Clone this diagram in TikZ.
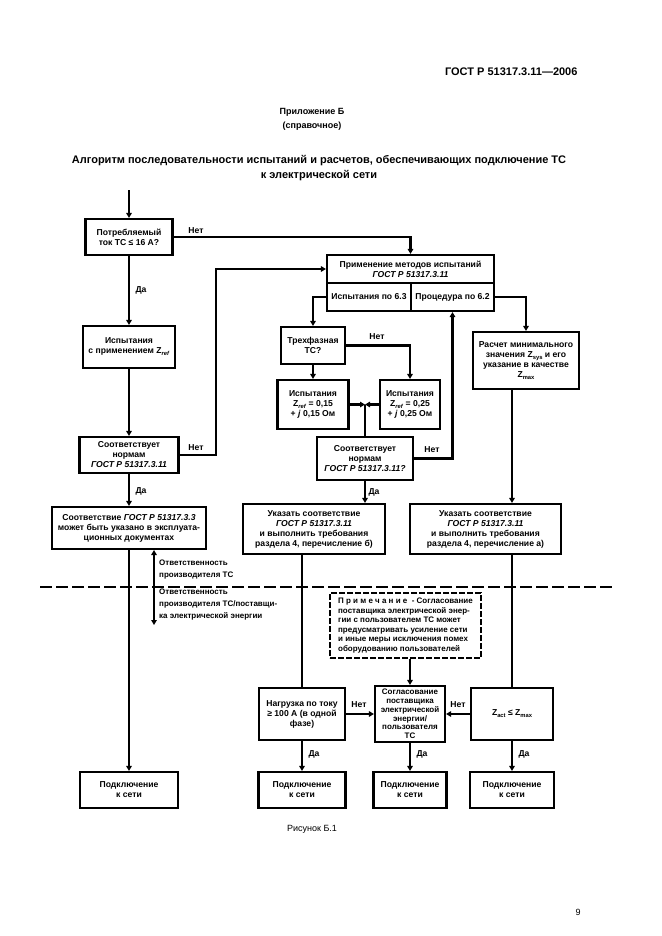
\documentclass[tikz,border=0pt]{standalone}
\usepackage{fontspec}
\setmainfont{Liberation Sans}
\usetikzlibrary{arrows.meta}

\newcommand{\lowtxt}[1]{\raisebox{-0.45ex}{\fontsize{5.8}{6}\selectfont #1}}

\tikzset{
  blk/.style={draw, line width=2.1pt, align=center, inner sep=1pt, font=\fontsize{8.6}{10}\selectfont\bfseries},
  sz/.style 2 args={minimum width=#1pt, minimum height=#2pt},
  arr/.style={line width=2.1pt, -{Triangle[length=5pt,width=5.5pt]}},
  ln/.style={line width=2.1pt},
  lbl/.style={font=\fontsize{8.6}{10}\selectfont\bfseries, inner sep=1pt},
}

\begin{document}
\begin{tikzpicture}[x=1pt,y=-1pt]
\useasboundingbox (0,0) rectangle (661,936);
\node[anchor=east, font=\fontsize{11}{13}\selectfont\bfseries] (gost) at (581,72) {ГОСТ Р 51317.3.11—2006};
\node[align=center, font=\fontsize{9}{14}\selectfont\bfseries] (app) at (312,119) {Приложение Б\\(справочное)};
\node[align=center, font=\fontsize{11}{15}\selectfont\bfseries] (title) at (319,168) {Алгоритм последовательности испытаний и расчетов, обеспечивающих подключение ТС\\к электрической сети};
\node[font=\fontsize{9}{11}\selectfont] (fig) at (312,829) {Рисунок Б.1};
\node[font=\fontsize{9}{11}\selectfont] (pg) at (578,912) {9};

\node[blk, sz={87}{36}] (cur) at (129,237) {Потребляемый\\ток ТС ≤ 16 А?};
\node[blk, sz={92}{42}] (zref) at (129,347) {Испытания\\с применением Z\lowtxt{\textit{ref}}};
\node[blk, sz={99}{36}] (chk) at (129,455) {Соответствует\\нормам\\\textit{ГОСТ Р 51317.3.11}};
\node[blk, sz={154}{42}] (decl) at (129,528) {Соответствие \textit{ГОСТ Р 51317.3.3}\\может быть указано в эксплуата-\\ционных документах};
\node[blk, sz={98}{36}] (con1) at (129,790) {Подключение\\к сети};

\node[blk, sz={167}{28}] (meth) at (410.5,269) {Применение методов испытаний\\\textit{ГОСТ Р 51317.3.11}};
\node[blk, sz={84}{28}] (m63) at (369,297) {Испытания по 6.3};
\node[blk, sz={83}{28}] (m62) at (452.5,297) {Процедура по 6.2};
\node[blk, sz={64}{37}] (three) at (313,345.5) {Трехфазная\\ТС?};
\node[blk, sz={71}{49}] (za) at (313,404.5) {Испытания\\Z\lowtxt{\textit{ref}} = 0,15\\+ \textit{j} 0,15 Ом};
\node[blk, sz={60}{49}] (zb) at (410,404.5) {Испытания\\Z\lowtxt{\textit{ref}} = 0,25\\+ \textit{j} 0,25 Ом};
\node[blk, sz={96}{43}] (chk2) at (365,458.5) {Соответствует\\нормам\\\textit{ГОСТ Р 51317.3.11?}};
\node[blk, sz={106}{57}] (calc) at (526,360.5) {Расчет минимального\\значения Z\lowtxt{sys} и его\\указание в качестве\\Z\lowtxt{max}};
\node[blk, sz={142}{50}] (decb) at (314,529) {Указать соответствие\\\textit{ГОСТ Р 51317.3.11}\\и выполнить требования\\раздела 4, перечисление б)};
\node[blk, sz={151}{50}] (deca) at (485.5,529) {Указать соответствие\\\textit{ГОСТ Р 51317.3.11}\\и выполнить требования\\раздела 4, перечисление а)};

\node[blk, sz={151}{65}, dash pattern=on 6pt off 2pt, line width=1.8pt, align=left, font=\fontsize{8}{9.6}\selectfont\bfseries] (note) at (405.5,625.5) {П р и м е ч а н и е\ \ -\ Согласование\\поставщика электрической энер-\\гии с пользователем ТС может\\предусматривать усиление сети\\и иные меры исключения помех\\оборудованию пользователей};
\node[blk, sz={86}{52}] (load) at (302,714) {Нагрузка по току\\≥ 100 А (в одной\\фазе)};
\node[blk, sz={70}{56}, font=\fontsize{8}{8.8}\selectfont\bfseries] (agree) at (410,714) {Согласование\\поставщика\\электрической\\энергии/\\пользователя\\ТС};
\node[blk, sz={82}{52}] (zcond) at (512,714) {Z\lowtxt{act} ≤ Z\lowtxt{max}};
\node[blk, sz={87}{36}] (con2) at (302,790) {Подключение\\к сети};
\node[blk, sz={73}{36}] (con3) at (410,790) {Подключение\\к сети};
\node[blk, sz={84}{36}] (con4) at (512,790) {Подключение\\к сети};

\node[lbl] (n1) at (196,231) {Нет};
\node[lbl] (y1) at (141,290) {Да};
\node[lbl] (n2) at (196,448) {Нет};
\node[lbl] (y2) at (141,491) {Да};
\node[lbl] (n3) at (377,337) {Нет};
\node[lbl] (n4) at (432,450) {Нет};
\node[lbl] (y3) at (374,492) {Да};
\node[lbl] (n5) at (359,705) {Нет};
\node[lbl] (n6) at (458,705) {Нет};
\node[lbl] (y4) at (314,754) {Да};
\node[lbl] (y5) at (422,754) {Да};
\node[lbl] (y6) at (524,754) {Да};
\node[lbl, anchor=north west, align=left, font=\fontsize{8}{12}\selectfont\bfseries] (resp1) at (158,559) {Ответственность\\производителя ТС};
\node[lbl, anchor=north west, align=left, font=\fontsize{8}{12}\selectfont\bfseries] (resp2) at (158,588) {Ответственность\\производителя ТС/поставщи-\\ка электрической энергии};

\coordinate (start) at (129,190);
\coordinate (jn) at (365,404.5);
\coordinate (rt) at (154,550);
\coordinate (rb) at (154,625);
\coordinate (sl) at (40,587);
\coordinate (sr) at (612,587);

\draw[line width=1.6pt, dash pattern=on 12pt off 4pt] (sl) -- (sr);
\draw[arr] (start) -- (cur);
\draw[arr] (cur.east) -| (meth.north);
\draw[arr] (cur) -- (zref);
\draw[arr] (zref) -- (chk);
\draw[arr] (chk.east) -- ++(36,0) |- (meth.west);
\draw[arr] (chk) -- (decl);
\draw[arr] (decl) -- (con1);
\draw[line width=2.1pt, {Triangle[length=5pt,width=5.5pt]}-{Triangle[length=5pt,width=5.5pt]}] (rt) -- (rb);
\draw[arr] (m63.west) -| (three.north);
\draw[arr] (three.east) -| (zb.north);
\draw[arr] (three) -- (za);
\draw[arr] (za.east) -- (jn);
\draw[arr] (zb.west) -- (jn);
\draw[ln] (jn) -- (chk2.north);
\draw[arr] (chk2.east) -| (m62.south);
\draw[arr] (chk2.south) -- (chk2.south |- decb.north);
\draw[arr] (m62.east) -| (calc.north);
\draw[arr] (calc.south -| zcond.north) -- (deca.north -| zcond.north);
\draw[ln] (decb.south -| load.north) -- (load.north);
\draw[ln] (deca.south -| zcond.north) -- (zcond.north);
\draw[arr] (note.south -| agree.north) -- (agree.north);
\draw[arr] (load) -- (agree);
\draw[arr] (zcond) -- (agree);
\draw[arr] (load) -- (con2);
\draw[arr] (agree) -- (con3);
\draw[arr] (zcond) -- (con4);
\end{tikzpicture}
\end{document}
